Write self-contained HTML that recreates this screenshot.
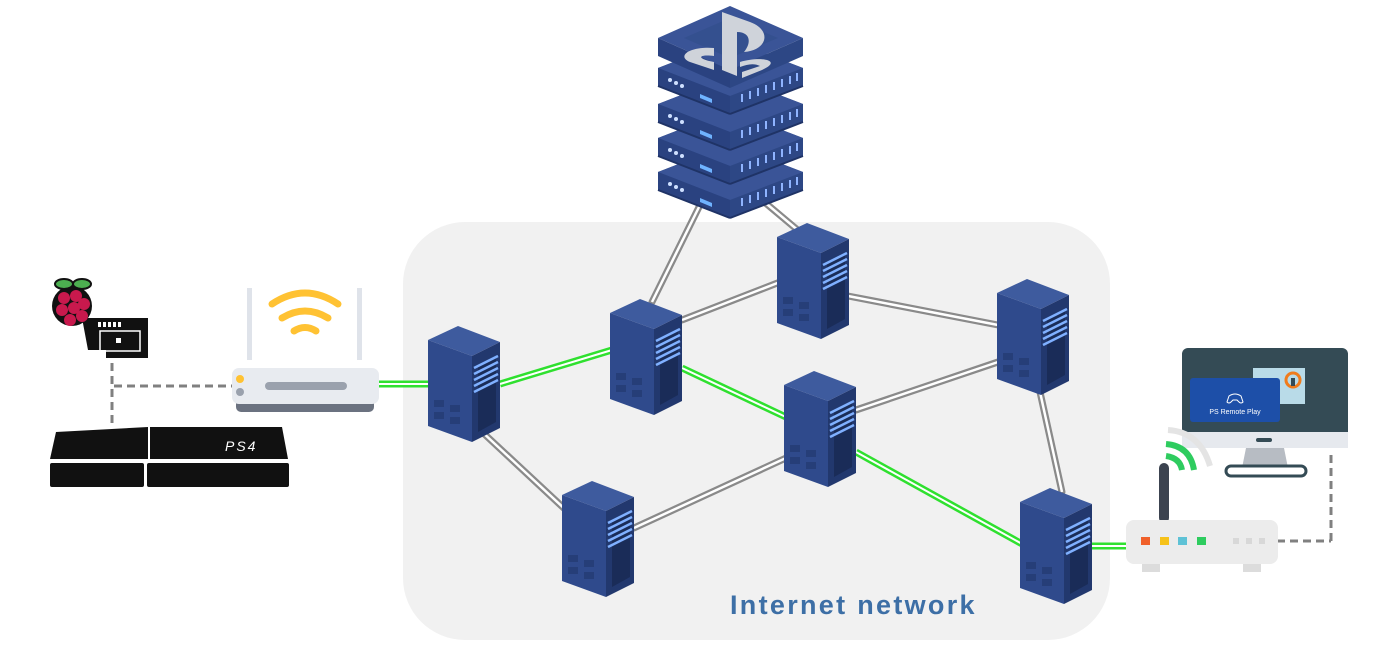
<!DOCTYPE html>
<html><head><meta charset="utf-8"><style>
html,body{margin:0;padding:0;background:#fff;}
svg{display:block;}
</style></head><body>
<svg width="1383" height="655" viewBox="0 0 1383 655" xmlns="http://www.w3.org/2000/svg">
<defs>
<g id="srv">
 <polygon points="0,14 30,0 72,16 44,30" fill="#3e5b9e"/>
 <polygon points="0,14 44,30 44,116 0,100" fill="#2f4a8c"/>
 <polygon points="44,30 72,16 72,102 44,116" fill="#22386e"/>
 <polygon points="50,40 68,31 68,96 50,106" fill="#1a2c58"/>
 <g stroke="#7fb0ff" stroke-width="2.5">
  <line x1="46" y1="42" x2="70" y2="30"/>
  <line x1="46" y1="48" x2="70" y2="36"/>
  <line x1="46" y1="54" x2="70" y2="42"/>
  <line x1="46" y1="60" x2="70" y2="48"/>
  <line x1="46" y1="66" x2="70" y2="54"/>
 </g>
 <g fill="#263e78">
  <rect x="6" y="74" width="10" height="7"/><rect x="22" y="79" width="10" height="7"/>
  <rect x="6" y="86" width="10" height="7"/><rect x="22" y="91" width="10" height="7"/>
 </g>
</g>
<g id="slab">
 <path d="M0,28 L72,0 L145,28 L145,46 L72,74 L0,46 Z" fill="#2d4785"/>
 <path d="M0,28 L72,56 L145,28 L72,0 Z" fill="#3a5497"/>
 <path d="M0,28 L72,56 L72,74 L0,46 Z" fill="#2a4280"/>
 <line x1="0" y1="46" x2="72" y2="74" stroke="#1f3366" stroke-width="2"/>
 <line x1="72" y1="74" x2="145" y2="46" stroke="#1f3366" stroke-width="2"/>
 <circle cx="12" cy="40" r="2" fill="#cfe0ff"/><circle cx="18" cy="43" r="2" fill="#cfe0ff"/><circle cx="24" cy="46" r="2" fill="#cfe0ff"/>
 <polygon points="42,54 54,59 54,63 42,58" fill="#6fb3ff"/>
 <g stroke="#8fb4ff" stroke-width="2">
  <line x1="84" y1="62" x2="84" y2="54"/><line x1="92" y1="59" x2="92" y2="51"/><line x1="100" y1="56" x2="100" y2="48"/>
  <line x1="108" y1="53" x2="108" y2="45"/><line x1="116" y1="50" x2="116" y2="42"/><line x1="124" y1="47" x2="124" y2="39"/>
  <line x1="132" y1="44" x2="132" y2="36"/><line x1="139" y1="41" x2="139" y2="33"/>
 </g>
</g>
</defs>

<rect x="403" y="222" width="707" height="418" rx="62" fill="#f1f1f1"/>

<!-- gray links -->
<g stroke="#8a8a8a" stroke-width="7" fill="none" stroke-linecap="round">
 <line x1="700" y1="205" x2="652" y2="302"/>
 <line x1="762" y1="200" x2="800" y2="232"/>
 <line x1="682" y1="320" x2="780" y2="282"/>
 <line x1="848" y1="296" x2="998" y2="325"/>
 <line x1="856" y1="410" x2="998" y2="362"/>
 <line x1="1040" y1="392" x2="1062" y2="492"/>
 <line x1="480" y1="430" x2="568" y2="512"/>
 <line x1="634" y1="528" x2="786" y2="458"/>
</g>
<g stroke="#fff" stroke-width="2.5" fill="none">
 <line x1="700" y1="205" x2="652" y2="302"/>
 <line x1="762" y1="200" x2="800" y2="232"/>
 <line x1="682" y1="320" x2="780" y2="282"/>
 <line x1="848" y1="296" x2="998" y2="325"/>
 <line x1="856" y1="410" x2="998" y2="362"/>
 <line x1="1040" y1="392" x2="1062" y2="492"/>
 <line x1="480" y1="430" x2="568" y2="512"/>
 <line x1="634" y1="528" x2="786" y2="458"/>
</g>
<!-- green links -->
<g stroke="#2fe02f" stroke-width="7" fill="none">
 <line x1="378" y1="384" x2="432" y2="384"/>
 <line x1="500" y1="384" x2="612" y2="350"/>
 <line x1="682" y1="368" x2="788" y2="418"/>
 <line x1="856" y1="452" x2="1024" y2="545"/>
 <line x1="1090" y1="546" x2="1130" y2="546"/>
</g>
<g stroke="#fff" stroke-width="2" fill="none">
 <line x1="378" y1="384" x2="432" y2="384"/>
 <line x1="500" y1="384" x2="612" y2="350"/>
 <line x1="682" y1="368" x2="788" y2="418"/>
 <line x1="856" y1="452" x2="1024" y2="545"/>
 <line x1="1090" y1="546" x2="1130" y2="546"/>
</g>

<!-- servers -->
<use href="#srv" x="428" y="326"/>
<use href="#srv" x="610" y="299"/>
<use href="#srv" x="777" y="223"/>
<use href="#srv" x="997" y="279"/>
<use href="#srv" x="784" y="371"/>
<use href="#srv" x="562" y="481"/>
<use href="#srv" x="1020" y="488"/>

<!-- PS stack -->
<use href="#slab" x="658" y="144"/>
<use href="#slab" x="658" y="110"/>
<use href="#slab" x="658" y="76"/>
<use href="#slab" x="658" y="40"/>
<path d="M658,38 L730,6 L803,38 L730,70 Z" fill="#3a5497"/>
<path d="M658,38 L658,56 L730,88 L730,70 Z" fill="#2a4280"/>
<path d="M803,38 L803,56 L730,88 L730,70 Z" fill="#2d4785"/>
<path d="M684,38 L730,18 L778,38 L730,58 Z" fill="#34508f"/>
<g fill="#cfd3da">
 <path d="M722,12 L722,70 L737,76 L737,32 C750,32 752,42 744,52 C768,50 772,30 750,22 Z"/>
 <path d="M690,62 C676,56 690,46 714,48 L714,56 C700,54 694,58 714,62 L714,70 Z"/>
 <path d="M740,62 C760,56 784,60 762,70 L742,78 L742,72 L760,66 C754,63 748,64 740,67 Z"/>
</g>

<!-- Left: raspberry pi -->
<g>
 <path d="M82,318 h66 v40 h-42 v-8 h-18 z" fill="#111"/>
 <g fill="#fff"><rect x="98" y="322" width="3" height="5"/><rect x="103" y="322" width="3" height="5"/><rect x="108" y="322" width="3" height="5"/><rect x="113" y="322" width="3" height="5"/><rect x="118" y="322" width="3" height="5"/></g>
 <rect x="100" y="331" width="40" height="20" fill="none" stroke="#fff" stroke-width="1.5"/>
 <rect x="116" y="338" width="5" height="5" fill="#fff"/>
 <circle cx="72" cy="306" r="20" fill="#111"/>
 <g fill="#c8194d">
  <circle cx="64" cy="298" r="6"/><circle cx="76" cy="296" r="6"/><circle cx="84" cy="304" r="6"/>
  <circle cx="62" cy="310" r="6"/><circle cx="74" cy="308" r="6"/><circle cx="70" cy="320" r="6"/><circle cx="82" cy="316" r="6"/>
 </g>
 <ellipse cx="64" cy="284" rx="9" ry="5" fill="#4caf50" stroke="#111" stroke-width="2"/>
 <ellipse cx="82" cy="284" rx="9" ry="5" fill="#4caf50" stroke="#111" stroke-width="2"/>
</g>
<g stroke="#808080" stroke-width="3" stroke-dasharray="8,5" fill="none">
 <line x1="112" y1="363" x2="112" y2="425"/>
 <line x1="114" y1="386" x2="232" y2="386"/>
 <line x1="1277" y1="541" x2="1331" y2="541"/>
 <line x1="1331" y1="541" x2="1331" y2="452"/>
</g>
<!-- PS4 -->
<path d="M56,432 L148,427 L148,459 L50,459 Z" fill="#111"/>
<path d="M150,427 L282,427 L288,459 L150,459 Z" fill="#111"/>
<rect x="50" y="463" width="94" height="24" rx="2" fill="#111"/>
<rect x="147" y="463" width="142" height="24" rx="2" fill="#111"/>
<text x="225" y="451" font-family="Liberation Sans, sans-serif" font-size="14" font-style="italic" fill="#fff" letter-spacing="2">PS4</text>

<!-- left router -->
<rect x="247" y="288" width="5" height="72" fill="#dfe3ea"/>
<rect x="357" y="288" width="5" height="72" fill="#dfe3ea"/>
<g stroke="#ffc233" stroke-width="7" fill="none" stroke-linecap="round">
 <path d="M272,304 Q305,282 338,304"/>
 <path d="M282,318 Q305,304 328,318"/>
 <path d="M294,331 Q305,324 316,331"/>
</g>
<rect x="236" y="398" width="138" height="14" rx="5" fill="#6b7280"/>
<rect x="232" y="368" width="147" height="36" rx="7" fill="#e8ebf0"/>
<rect x="265" y="382" width="82" height="8" rx="4" fill="#9aa1ad"/>
<circle cx="240" cy="379" r="4" fill="#ffc233"/>
<circle cx="240" cy="392" r="4" fill="#9aa1ad"/>

<!-- right monitor -->
<rect x="1182" y="348" width="166" height="96" rx="6" fill="#344b55"/>
<rect x="1182" y="432" width="166" height="16" fill="#e6e9ee"/>
<rect x="1256" y="438" width="16" height="4" rx="2" fill="#344b55"/>
<polygon points="1246,448 1284,448 1288,468 1242,468" fill="#b7bcc3"/>
<rect x="1226" y="466" width="80" height="10" rx="5" fill="#fff" stroke="#344b55" stroke-width="3"/>
<rect x="1253" y="368" width="52" height="36" fill="#b9dbe8"/>
<circle cx="1293" cy="380" r="7" fill="none" stroke="#f07c1c" stroke-width="3"/>
<rect x="1291" y="378" width="4" height="8" fill="#344b55"/>
<rect x="1190" y="378" width="90" height="44" rx="3" fill="#1d4fa8"/>
<text x="1235" y="414" text-anchor="middle" font-family="Liberation Sans, sans-serif" font-size="7" fill="#fff">PS Remote Play</text>
<path d="M1229,396 q6,-4 12,0 l2,6 q-2,2 -4,0 l-2,-2 h-4 l-2,2 q-2,2 -4,0 z" fill="none" stroke="#fff" stroke-width="1"/>
<!-- right router -->
<path d="M1168,430 Q1200,432 1210,466" stroke="#e4e4e4" stroke-width="6" fill="none"/>
<path d="M1166,444 Q1190,446 1194,470" stroke="#2ecc5f" stroke-width="6" fill="none"/>
<path d="M1166,456 Q1180,458 1182,470" stroke="#2ecc5f" stroke-width="6" fill="none"/>
<rect x="1159" y="463" width="10" height="60" rx="5" fill="#3c4350"/>
<rect x="1142" y="560" width="18" height="12" fill="#dcdcdc"/>
<rect x="1243" y="560" width="18" height="12" fill="#dcdcdc"/>
<rect x="1126" y="520" width="152" height="44" rx="8" fill="#ececec"/>
<rect x="1141" y="537" width="9" height="8" fill="#f0602a"/>
<rect x="1160" y="537" width="9" height="8" fill="#f6c21a"/>
<rect x="1178" y="537" width="9" height="8" fill="#5ec2d6"/>
<rect x="1197" y="537" width="9" height="8" fill="#2ecc5f"/>
<rect x="1233" y="538" width="6" height="6" fill="#d8d8d8"/>
<rect x="1246" y="538" width="6" height="6" fill="#d8d8d8"/>
<rect x="1259" y="538" width="6" height="6" fill="#d8d8d8"/>

<text x="730" y="614" font-family="Liberation Sans, sans-serif" font-weight="bold" font-size="27" fill="#3d6fa6" letter-spacing="2.3">Internet network</text>
</svg>
</body></html>
